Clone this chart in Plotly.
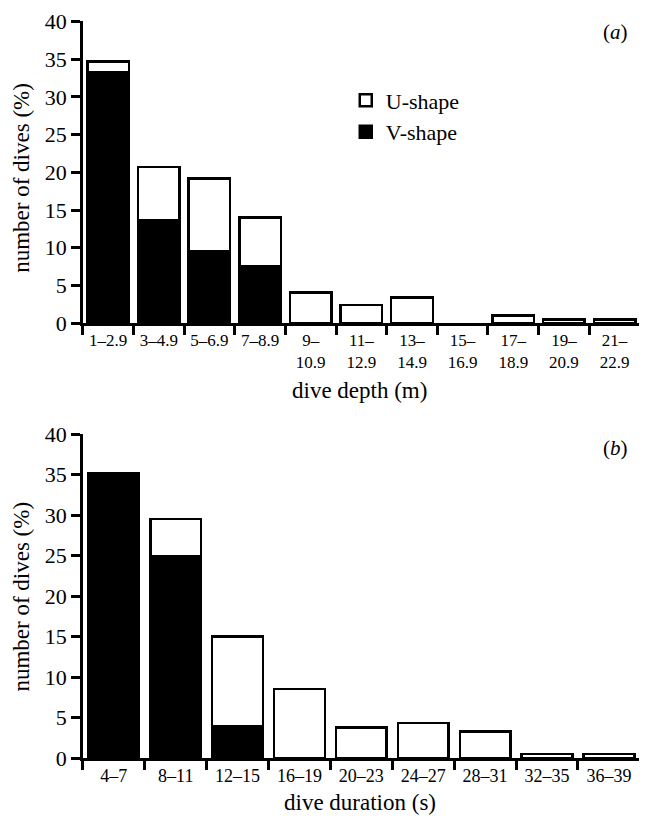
import plotly.graph_objects as go

# ---- data ----
depth_cats = ["1–2.9", "3–4.9", "5–6.9", "7–8.9", "9–<br>10.9", "11–<br>12.9",
              "13–<br>14.9", "15–<br>16.9", "17–<br>18.9", "19–<br>20.9", "21–<br>22.9"]
depth_v = [33.3, 13.7, 9.5, 7.5, 0, 0, 0, 0, 0, 0, 0]
depth_u = [1.4, 7.0, 9.7, 6.5, 4.1, 2.4, 3.4, 0, 1.0, 0.5, 0.5]

dur_cats = ["4–7", "8–11", "12–15", "16–19", "20–23", "24–27", "28–31", "32–35", "36–39"]
dur_v = [35.2, 24.9, 3.9, 0, 0, 0, 0, 0, 0]
dur_u = [0, 4.6, 11.1, 8.5, 3.8, 4.3, 3.3, 0.5, 0.5]

y_ticks = [0, 5, 10, 15, 20, 25, 30, 35, 40]


def nz(vals):
    return [v if v else None for v in vals]


FONT = "Liberation Serif"
W, H = 647, 820
LW = 2.5


# map a target pixel position in the screenshot to layout pixels
def px(x):
    return (x - 8.6) / 0.993


def py(y):
    return (y - 18.6) / 0.97


def fx(x):
    return px(x) / W


def fy(y):
    return (H - py(y)) / H


fig = go.Figure()

fig.add_trace(go.Bar(x=depth_cats, y=nz(depth_v), name="V-shape",
                     marker=dict(color="black", line=dict(color="black", width=LW)), xaxis="x", yaxis="y"))
fig.add_trace(go.Bar(x=depth_cats, y=nz(depth_u), name="U-shape",
                     marker=dict(color="white", line=dict(color="black", width=LW)), xaxis="x", yaxis="y"))
fig.add_trace(go.Bar(x=dur_cats, y=nz(dur_v), name="V-shape", showlegend=False,
                     marker=dict(color="black", line=dict(color="black", width=LW)), xaxis="x2", yaxis="y2"))
fig.add_trace(go.Bar(x=dur_cats, y=nz(dur_u), name="U-shape", showlegend=False,
                     marker=dict(color="white", line=dict(color="black", width=LW)), xaxis="x2", yaxis="y2"))

xdom = [fx(83), fx(636)]
top_dom = [fy(322), fy(20)]
bot_dom = [fy(757), fy(433)]

xcommon = dict(type="category", tickson="boundaries", ticks="outside", ticklen=9, tickwidth=LW,
               tickcolor="black", showline=True, linewidth=LW, linecolor="black", showgrid=False,
               zeroline=False, tickangle=0)
ycommon = dict(range=[0, 40], tickvals=y_ticks, ticks="outside", ticklen=9, tickwidth=LW,
               tickcolor="black", showline=True, linewidth=LW, linecolor="black", showgrid=False,
               zeroline=False, tickfont=dict(family=FONT, size=22, color="black"))


def ann(text, x, y, angle=0, size=23):
    return dict(text=text, x=fx(x), y=fy(y), xref="paper", yref="paper", showarrow=False,
                textangle=angle, font=dict(family=FONT, size=size, color="black"),
                xanchor="center", yanchor="middle")


fig.update_layout(
    width=W, height=H,
    margin=dict(l=0, r=0, t=0, b=0),
    paper_bgcolor="white", plot_bgcolor="white",
    barmode="stack", bargap=0.18,
    font=dict(family=FONT, color="black", size=18),
    xaxis=dict(domain=xdom, anchor="y", range=[-0.5, 10.5],
               tickfont=dict(family=FONT, size=17, color="black"), **xcommon),
    yaxis=dict(domain=top_dom, anchor="x", **ycommon),
    xaxis2=dict(domain=xdom, anchor="y2", range=[-0.5, 8.5],
                tickfont=dict(family=FONT, size=18, color="black"), **xcommon),
    yaxis2=dict(domain=bot_dom, anchor="x2", **ycommon),
    legend=dict(x=fx(344), y=fy(78), xanchor="left", yanchor="top", traceorder="reversed",
                bgcolor="rgba(0,0,0,0)", font=dict(family=FONT, size=22, color="black"),
                itemwidth=30, tracegroupgap=0),
    showlegend=True,
    annotations=[
        ann("(<i>a</i>)", 612, 31, size=21),
        ann("(<i>b</i>)", 612, 447, size=21),
        ann("dive depth (m)", 358, 389),
        ann("dive duration (s)", 358, 801),
        ann("number of dives (%)", 22, 176, angle=-90),
        ann("number of dives (%)", 22, 595, angle=-90),
    ],
)

fig.write_html("out.html")
